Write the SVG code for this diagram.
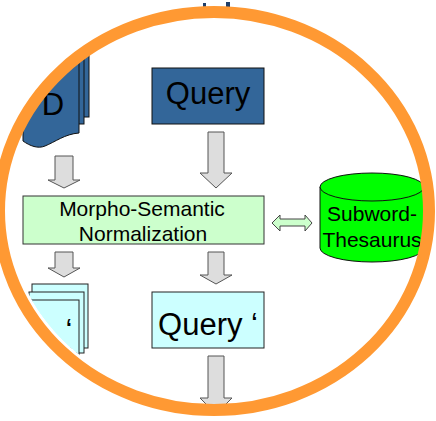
<svg xmlns="http://www.w3.org/2000/svg" width="436" height="421" viewBox="0 0 436 421">
  <style>
    .lbl { font-family: "Liberation Sans", Arial, sans-serif; fill: #000; text-anchor: middle; }
    .big { font-size: 31px; }
    .mid { font-size: 21px; }
    .blue { fill: #336699; stroke: #111; stroke-width: 1; }
    .cyan { fill: #ccffff; stroke: #222; stroke-width: 1; }
    .block { fill: #dddddd; stroke: #555; stroke-width: 1; }
  </style>
  <defs>
    <clipPath id="inner">
      <ellipse cx="214" cy="211" rx="206" ry="190"/>
    </clipPath>
  </defs>
  <rect width="436" height="421" fill="#fff"/>

  <!-- source documents -->
  <g id="docs">
    <rect class="blue" x="30" y="30" width="59" height="87"/>
    <rect class="blue" x="27" y="30" width="57" height="94"/>
    <path class="blue" d="M23,30 H79 V133 C65,134 55,142 45,146 C38,149 30,146 23,141 Z"/>
    <text class="lbl big" x="53" y="115">D</text>
  </g>

  <!-- query -->
  <g id="query">
    <rect class="blue" x="152" y="68" width="112" height="56"/>
    <text class="lbl big" x="208" y="104">Query</text>
  </g>

  <!-- normalization step -->
  <g id="normalization">
    <rect x="23" y="196" width="241" height="48" fill="#ccffcc" stroke="#333" stroke-width="1"/>
    <text class="lbl mid" x="142" y="216">Morpho-Semantic</text>
    <text class="lbl mid" x="143" y="241">Normalization</text>
  </g>

  <!-- thesaurus store -->
  <g id="thesaurus">
    <path d="M320,187 V248 A52,14 0 0 0 424,248 V187 Z" fill="#00ff00" stroke="#111" stroke-width="1"/>
    <ellipse cx="372" cy="187" rx="52" ry="14" fill="#00ff00" stroke="#111" stroke-width="1"/>
    <text class="lbl mid" x="372" y="221">Subword-</text>
    <text class="lbl mid" x="372" y="247">Thesaurus</text>
  </g>

  <!-- normalized documents -->
  <g id="docs-norm" clip-path="url(#inner)">
    <rect class="cyan" x="32" y="284" width="56" height="64"/>
    <rect class="cyan" x="29" y="292" width="55" height="61"/>
    <rect class="cyan" x="20" y="300" width="59" height="57"/>
    <text class="lbl big" x="69" y="341">‘</text>
  </g>

  <!-- normalized query -->
  <g id="query-norm">
    <rect class="cyan" x="152" y="292" width="112" height="56"/>
    <text class="lbl big" x="208" y="335">Query ‘</text>
  </g>

  <!-- connectors -->
  <g id="connectors">
    <path class="block" d="M55,156 H73 V180 H80 L64,188 L48,180 H55 Z"/>
    <path class="block" d="M208,132 H224 V173 H232 L216,188 L200,173 H208 Z"/>
    <path class="block" d="M55,252 H73 V268 H80 L64,277 L48,268 H55 Z"/>
    <path class="block" d="M208,252 H224 V275 H232 L216,284 L200,275 H208 Z"/>
    <path class="block" d="M208,356 H224 V398 H232 L216,414 L200,398 H208 Z"/>
    <path d="M272,223 L280,215 V219 H305 V215 L312,223 L305,231 V226 H280 V231 Z" fill="#ccffcc" stroke="#444" stroke-width="1"/>
  </g>

  <!-- lens frame -->
  <path d="M0,0 H436 V421 H0 Z M-1,211 A215,199 0 1 0 429,211 A215,199 0 1 0 -1,211 Z" fill="#fff" fill-rule="evenodd"/>
  <rect x="203" y="3" width="3" height="5" fill="#1f3f6a"/>
  <rect x="226" y="2" width="4" height="5" fill="#1f3f6a"/>
  <ellipse cx="214" cy="211" rx="215" ry="199" fill="none" stroke="#ff9933" stroke-width="12"/>
</svg>
